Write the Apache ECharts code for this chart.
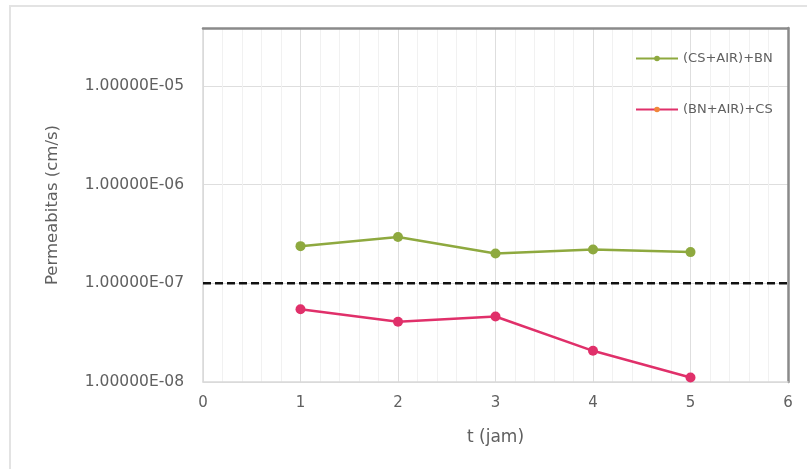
<!DOCTYPE html>
<html>
<head>
<meta charset="utf-8">
<script src="https://cdn.jsdelivr.net/npm/echarts@6/dist/echarts.min.js"></script>
<style>
html,body{margin:0;padding:0;background:#fff;}
#wrap{position:relative;width:807px;height:469px;overflow:hidden;}
#frame{position:absolute;left:9px;top:5px;width:820px;height:480px;border:2px solid #e3e3e3;box-sizing:border-box;}
#chart{position:absolute;left:0;top:0;width:807px;height:469px;}
</style>
</head>
<body>
<div id="wrap"><div id="frame"></div><div id="chart"></div></div>
<script>
const times = [1, 2, 3, 4, 5];
const seriesNames = ['(CS+AIR)+BN', '(BN+AIR)+CS'];
const csAirBn = [2.38e-7, 2.94e-7, 2.0e-7, 2.2e-7, 2.07e-7];
const bnAirCs = [5.46e-8, 4.07e-8, 4.61e-8, 2.07e-8, 1.11e-8];
const thresholdX = [0, 6];
const thresholdY = [1e-7, 1e-7];
const xMin = 0, xMax = 6, xStep = 1;
const yMin = 1e-8, yMax = 3.86e-5;

const green = '#8ea93f';
const pink = '#e0306a';
const textColor = '#606060';
const font = '"DejaVu Sans", sans-serif';

function fmtE(v) {
  const parts = Number(v).toExponential(5).split('e');
  const sign = parts[1][0] === '-' ? '-' : '+';
  const digits = parts[1].replace(/^[+-]/, '').padStart(2, '0');
  return parts[0] + 'E' + sign + digits;
}

const chart = echarts.init(document.getElementById('chart'), null, {renderer: 'canvas'});
chart.setOption({
  animation: false,
  grid: {left: 203, top: 28, right: 19, bottom: 87},
  legend: {
    orient: 'vertical',
    left: 630,
    top: 47,
    itemGap: 38,
    itemWidth: 42,
    itemHeight: 7,
    textStyle: {color: textColor, fontFamily: font, fontSize: 13},
    data: [
      {name: seriesNames[0]},
      {name: seriesNames[1], itemStyle: {color: '#f0873a'}}
    ]
  },
  xAxis: [{
    type: 'value', min: xMin, max: xMax, interval: xStep,
    position: 'bottom',
    axisLine: {lineStyle: {color: '#d9d9d9', width: 1.5}},
    axisTick: {show: false},
    axisLabel: {color: textColor, fontFamily: font, fontSize: 15, margin: 14},
    splitLine: {show: true, lineStyle: {color: '#dedede'}},
    minorTick: {show: false, splitNumber: 5},
    minorSplitLine: {show: true, lineStyle: {color: '#f1f1f1'}},
    name: 't (jam)', nameLocation: 'middle', nameGap: 47,
    nameTextStyle: {color: textColor, fontFamily: font, fontSize: 17}
  }, {
    type: 'value', min: xMin, max: xMax, interval: xStep,
    position: 'top',
    axisLine: {onZero: false, lineStyle: {color: '#8a8a8a', width: 2.5}},
    axisTick: {show: false}, axisLabel: {show: false}, splitLine: {show: false}
  }],
  yAxis: [{
    type: 'log', logBase: 10, min: yMin, max: yMax,
    position: 'left',
    axisLine: {show: true, lineStyle: {color: '#d9d9d9', width: 1.5}},
    axisTick: {show: false},
    axisLabel: {color: textColor, fontFamily: font, fontSize: 15.5, margin: 19, showMaxLabel: false, formatter: fmtE},
    splitLine: {show: true, lineStyle: {color: '#dedede'}},
    name: 'Permeabitas (cm/s)', nameLocation: 'middle', nameGap: 142,
    nameTextStyle: {color: textColor, fontFamily: font, fontSize: 16.5}
  }, {
    type: 'log', logBase: 10, min: yMin, max: yMax,
    position: 'right',
    axisLine: {show: true, onZero: false, lineStyle: {color: '#8a8a8a', width: 2.5}},
    axisTick: {show: false}, axisLabel: {show: false}, splitLine: {show: false}
  }],
  series: [{
    name: 'threshold', type: 'line',
    data: thresholdX.map((x, i) => [x, thresholdY[i]]),
    symbol: 'none', silent: true,
    lineStyle: {color: '#111', width: 2.5, type: [8, 4]}
  }, {
    name: seriesNames[0], type: 'line',
    data: times.map((t, i) => [t, csAirBn[i]]),
    symbol: 'circle', symbolSize: 10,
    itemStyle: {color: green},
    lineStyle: {color: green, width: 2.5}
  }, {
    name: seriesNames[1], type: 'line',
    data: times.map((t, i) => [t, bnAirCs[i]]),
    symbol: 'circle', symbolSize: 10,
    itemStyle: {color: pink},
    lineStyle: {color: pink, width: 2.5}
  }]
});
</script>
</body>
</html>
